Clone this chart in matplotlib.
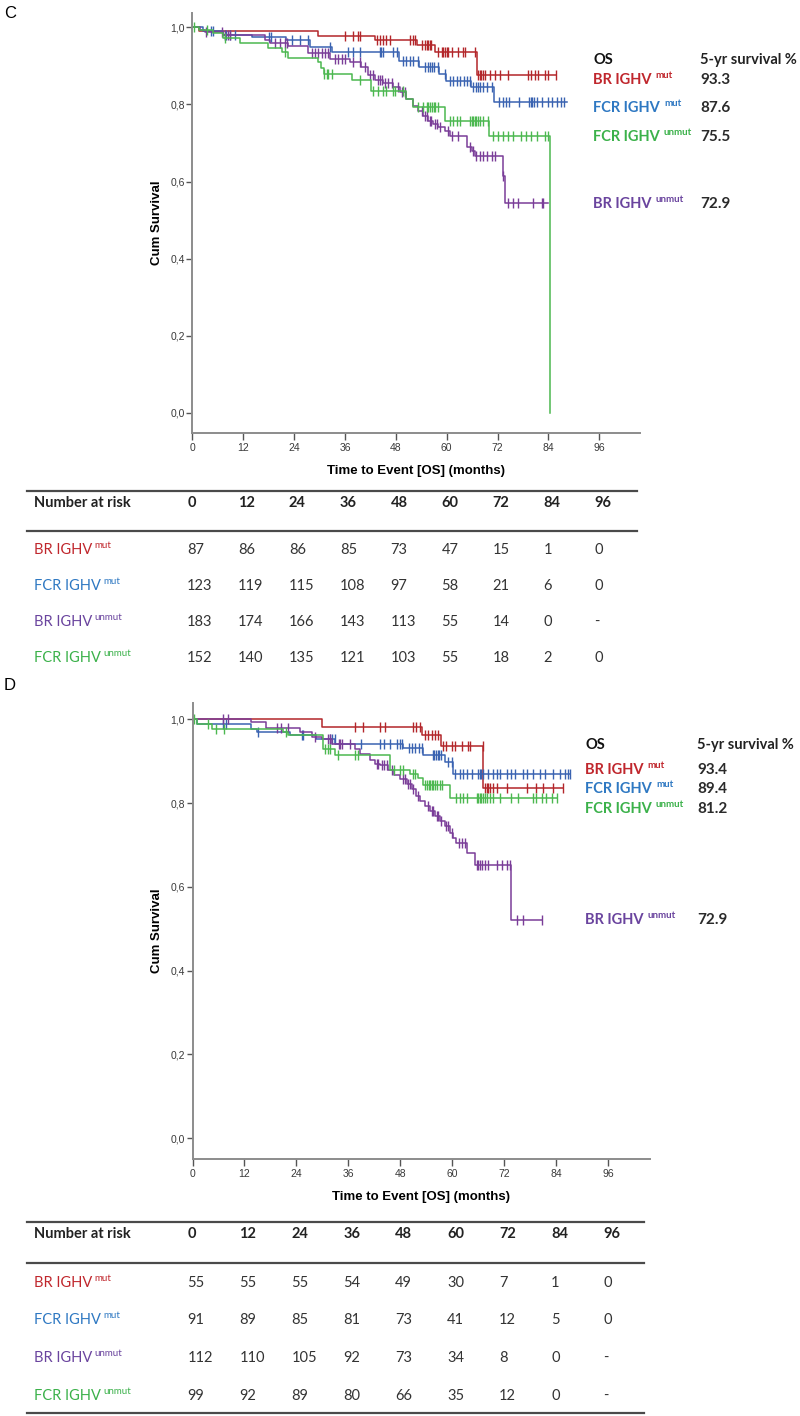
import matplotlib.pyplot as plt
import numpy as np
from matplotlib.transforms import blended_transform_factory

plt.rcParams['font.family'] = ['Liberation Sans', 'DejaVu Sans']

#%% Data
months = [0, 12, 24, 36, 48, 60, 72, 84, 96]
yvals = [0.0, 0.2, 0.4, 0.6, 0.8, 1.0]
ylabs = ['0,0', '0,2', '0,4', '0,6', '0,8', '1,0']

# group order: BR mut, FCR mut, BR unmut, FCR unmut
arm = ['BR IGHV', 'FCR IGHV', 'BR IGHV', 'FCR IGHV']
status = ['mut', 'mut', 'unmut', 'unmut']
line_col = ['#b3262a', '#3a63b1', '#7a3d98', '#4cb850']
text_col = ['#c0272d', '#2e78c2', '#6a449e', '#3bb14a']
legend_order = [0, 1, 3, 2]

c_surv5 = ['93.3', '87.6', '72.9', '75.5']
d_surv5 = ['93.4', '89.4', '72.9', '81.2']

# panel C (all patients)
c_t = [
    [0, 1.5, 29.7, 43.1, 52.9, 57.2, 67.1],
    [0, 2.6, 7.3, 14.0, 22.0, 27.7, 33.0, 48.8, 53.5, 58.2, 59.9, 65.8, 71.2],
    [0, 1.8, 3.0, 7.3, 17.1, 18.3, 22.5, 27.4, 32.5, 37.2, 39.9, 41.5, 43.1, 45.0, 47.4, 49.0,
     50.5, 52.1, 53.3, 54.5, 55.7, 56.8, 58.0, 59.6, 60.8, 64.7, 65.9, 66.7, 73.4, 73.8],
    [0, 1.5, 5.0, 7.3, 11.2, 17.9, 21.1, 22.5, 29.7, 30.3, 31.0, 37.6, 42.1, 50.5, 52.0,
     59.6, 69.9, 84.3],
]
c_s = [
    [1.0, 0.990, 0.978, 0.967, 0.954, 0.935, 0.877],
    [1.0, 0.991, 0.980, 0.975, 0.967, 0.950, 0.935, 0.913, 0.897, 0.880, 0.861, 0.845, 0.806],
    [1.0, 0.993, 0.987, 0.980, 0.967, 0.958, 0.951, 0.932, 0.919, 0.910, 0.897, 0.876, 0.862,
     0.856, 0.845, 0.832, 0.815, 0.797, 0.784, 0.771, 0.758, 0.749, 0.741, 0.732, 0.719, 0.689,
     0.680, 0.667, 0.615, 0.545],
    [1.0, 0.993, 0.984, 0.971, 0.958, 0.945, 0.937, 0.921, 0.910, 0.895, 0.880, 0.863, 0.835,
     0.815, 0.793, 0.757, 0.719, 0.0],
]
c_cens = [
    [36.0, 38.0, 39.1, 39.5, 43.5, 44.3, 45.0, 45.8, 46.6, 51.3, 52.1, 52.5, 54.1, 54.9, 55.3,
     55.7, 56.0, 56.4, 58.0, 58.8, 59.2, 59.6, 60.0, 60.4, 61.2, 62.7, 63.9, 64.3, 66.7, 67.5,
     67.8, 68.2, 68.6, 69.0, 70.2, 71.4, 72.6, 74.5, 79.2, 80.0, 80.8, 81.6, 83.2, 83.9, 85.9],
    [4.5, 5.0, 7.6, 8.0, 9.0, 10.0, 18.2, 18.6, 23.4, 25.4, 27.4, 32.5, 36.8, 38.0, 39.5, 44.3,
     44.6, 45.0, 47.4, 48.2, 49.7, 50.5, 51.3, 52.1, 53.2, 54.9, 55.7, 56.1, 56.5, 56.9, 57.9,
     59.6, 60.8, 61.6, 62.4, 63.2, 64.0, 64.7, 65.5, 66.2, 67.0, 67.4, 67.8, 68.6, 69.4, 70.7,
     72.4, 73.2, 74.0, 74.8, 77.1, 79.5, 79.8, 80.2, 80.6, 81.4, 82.6, 83.8, 84.9, 86.1, 86.9,
     87.7],
    [3.2, 6.9, 7.7, 8.5, 8.9, 19.5, 20.7, 21.9, 22.3, 28.2, 29.0, 29.7, 30.5, 31.3, 32.1, 33.7,
     34.4, 35.2, 36.0, 38.0, 39.5, 40.7, 41.9, 42.7, 43.9, 44.3, 44.7, 45.4, 46.2, 47.0, 48.6,
     49.4, 50.2, 54.1, 54.9, 55.3, 56.0, 56.4, 57.2, 57.6, 58.4, 60.4, 61.2, 62.7, 65.5, 66.3,
     67.0, 67.8, 68.6, 69.4, 70.6, 71.4, 73.4, 74.5, 75.7, 76.9, 80.4, 82.4, 82.8],
    [0.3, 3.4, 7.7, 21.9, 31.1, 31.8, 32.1, 32.9, 39.5, 42.7, 43.9, 45.0, 45.8, 47.4, 47.8,
     49.8, 53.3, 54.5, 55.3, 55.7, 56.1, 56.5, 56.9, 57.3, 58.0, 60.8, 61.6, 62.4, 63.2, 65.5,
     65.9, 66.3, 66.7, 67.0, 67.4, 67.8, 68.6, 69.7, 70.9, 72.1, 73.3, 74.5, 75.7, 77.6, 78.8,
     80.0, 81.2, 83.2, 83.9],
]
c_end = [85.9, 88.3, 83.8, 84.3]

# panel D
d_t = [
    [0, 29.8, 52.9, 57.3, 67.1],
    [0, 1.0, 13.5, 14.8, 22.5, 28.5, 33.0, 48.7, 53.3, 58.3, 60.2],
    [0, 13.4, 17.0, 24.8, 27.5, 29.8, 32.1, 37.5, 38.7, 40.9, 42.1, 43.3, 45.2, 46.4, 47.9,
     49.4, 50.6, 51.7, 52.5, 53.7, 54.8, 56.0, 57.1, 58.3, 59.4, 60.2, 60.9, 63.3, 65.2, 73.6],
    [0, 1.0, 4.5, 20.9, 22.0, 30.2, 33.0, 45.6, 50.2, 52.1, 53.3, 59.4],
]
d_s = [
    [1.0, 0.982, 0.962, 0.936, 0.835],
    [1.0, 0.989, 0.978, 0.969, 0.962, 0.952, 0.942, 0.932, 0.916, 0.898, 0.870],
    [1.0, 0.993, 0.980, 0.970, 0.958, 0.954, 0.942, 0.930, 0.918, 0.902, 0.894, 0.890, 0.878,
     0.866, 0.858, 0.846, 0.834, 0.818, 0.806, 0.794, 0.782, 0.769, 0.757, 0.745, 0.729, 0.717,
     0.705, 0.681, 0.651, 0.521],
    [1.0, 0.989, 0.978, 0.970, 0.962, 0.930, 0.914, 0.880, 0.870, 0.860, 0.842, 0.811],
]
d_cens = [
    [37.5, 39.4, 43.3, 44.4, 50.9, 51.7, 52.5, 53.7, 54.4, 55.2, 56.0, 56.7, 57.9, 58.6, 59.8,
     60.6, 62.1, 63.7, 64.1, 67.0, 67.5, 67.9, 68.3, 68.7, 69.4, 70.2, 72.5, 77.1, 79.4, 81.0,
     83.3, 85.6],
    [7.1, 7.8, 15.2, 25.2, 25.6, 31.7, 32.1, 32.9, 39.0, 43.3, 44.1, 45.6, 47.2, 47.9, 48.3,
     50.0, 50.6, 51.4, 52.2, 52.9, 55.4, 55.8, 56.2, 56.6, 57.0, 57.4, 59.0, 59.8, 60.6, 61.8,
     62.5, 63.3, 64.4, 66.0, 66.3, 66.7, 67.1, 68.2, 69.4, 70.2, 71.0, 72.5, 73.6, 74.4, 76.3,
     77.1, 78.6, 80.2, 81.3, 83.2, 84.8, 85.9, 86.7, 87.1],
    [7.1, 8.2, 19.4, 20.5, 22.1, 28.2, 31.3, 31.7, 33.7, 34.1, 34.5, 36.4, 42.5, 42.9, 43.7,
     44.1, 44.8, 46.0, 48.7, 49.0, 49.8, 50.2, 50.9, 52.1, 54.4, 55.2, 55.6, 56.4, 56.7, 57.4,
     58.6, 59.0, 59.8, 61.4, 62.1, 62.9, 65.6, 66.0, 66.4, 66.8, 67.5, 68.3, 70.2, 71.4, 72.5,
     73.3, 74.8, 76.4, 80.6],
    [0.3, 3.5, 5.4, 7.3, 21.6, 30.5, 31.2, 31.7, 33.5, 37.5, 38.3, 46.4, 47.9, 48.7, 51.0,
     51.3, 53.7, 54.1, 54.5, 54.9, 55.3, 55.6, 56.0, 56.4, 57.2, 57.6, 60.9, 61.7, 62.5, 63.3,
     65.6, 66.0, 66.3, 66.7, 67.1, 67.5, 67.9, 68.6, 69.4, 71.0, 73.6, 75.2, 78.6, 79.4, 80.6,
     81.7, 82.9, 84.1],
]
d_end = [85.6, 87.1, 80.6, 84.1]

c_risk = [
    ['87', '86', '86', '85', '73', '47', '15', '1', '0'],
    ['123', '119', '115', '108', '97', '58', '21', '6', '0'],
    ['183', '174', '166', '143', '113', '55', '14', '0', '-'],
    ['152', '140', '135', '121', '103', '55', '18', '2', '0'],
]
d_risk = [
    ['55', '55', '55', '54', '49', '30', '7', '1', '0'],
    ['91', '89', '85', '81', '73', '41', '12', '5', '0'],
    ['112', '110', '105', '92', '73', '34', '8', '0', '-'],
    ['99', '92', '89', '80', '66', '35', '12', '0', '-'],
]

#%% Plot
W, H = 800, 1416
fig = plt.figure(figsize=(W / 100, H / 100), dpi=100)
ov = fig.add_axes([0, 0, 1, 1])
ov.set_xlim(0, W)
ov.set_ylim(H, 0)
ov.axis('off')

TF = ['Lato', 'DejaVu Sans']


def km(ax, t, s, cens, end, color):
    t = np.append(t, end)
    s = np.append(s, s[-1])
    ax.step(t, s, where='post', color=color, lw=1.1)
    idx = np.searchsorted(t, cens, side='right') - 1
    ax.plot(cens, s[idx], ls='none', marker='|', ms=7, mew=1.0, color=color)


def label_sup(x, y, i, size, sup_size, weight, gap):
    t = ov.text(x, y, arm[i], fontsize=size, color=text_col[i], fontweight=weight,
                family=TF, ha='left', va='center')
    ov.annotate(status[i], xy=(1, 1), xycoords=t, xytext=(gap, 1.5),
                textcoords='offset points', ha='left', va='top',
                fontsize=sup_size, color=text_col[i], fontweight=weight, family=TF)


def panel(letter, box, ylim, ts, ss, cens, ends, surv5, risk, lay):
    l, r, top, b = box
    ax = fig.add_axes([l / W, 1 - b / H, (r - l) / W, (b - top) / H])
    ax.patch.set_visible(False)
    for i in range(4):
        km(ax, ts[i], ss[i], cens[i], ends[i], line_col[i])
    ax.set_xlim(0, 105.6)
    ax.set_ylim(*ylim)
    ax.set_xticks(months)
    ax.set_xticklabels([str(m) for m in months])
    ax.set_yticks(yvals)
    ax.set_yticklabels(ylabs)
    for sp in ['top', 'right']:
        ax.spines[sp].set_visible(False)
    for sp in ['left', 'bottom']:
        ax.spines[sp].set_color('#8c8c8c')
        ax.spines[sp].set_linewidth(1.4)
    ax.tick_params(axis='x', direction='out', length=5, width=1, color='#555555',
                   labelsize=7.5, labelcolor='#3a3a3a', pad=2.5)
    ax.tick_params(axis='y', direction='out', length=4.5, width=1, color='#555555',
                   labelsize=7.5, labelcolor='#3a3a3a', pad=1)
    ax.set_ylabel('Cum Survival', fontsize=9.5, fontweight='bold', labelpad=5)
    ax.set_xlabel('Time to Event [OS] (months)', fontsize=9.5, fontweight='bold', labelpad=8)

    ov.text(4, lay['letter_y'], letter, fontsize=12, ha='left', va='center')

    # legend with 5-yr survival
    ov.text(lay['os_x'], lay['head_y'], 'OS', fontsize=10.5, fontweight='bold', family=TF,
            ha='left', va='center', color='#111111')
    ov.text(lay['val_x'], lay['head_y'], '5-yr survival %', fontsize=10.5, fontweight='bold',
            family=TF, ha='left', va='center', color='#222222')
    for i in legend_order:
        y = lay['leg_y'][i]
        label_sup(lay['os_x'], y, i, 10.5, 7, 'bold', 3)
        ov.text(lay['val_x'], y, surv5[i], fontsize=11, fontweight='bold', family=TF,
                ha='left', va='center', color='#2a2a2a')

    # number at risk table
    tr = blended_transform_factory(ax.transData, ov.transData)
    for y in lay['rules']:
        ov.plot([27, lay['rule_end']], [y, y], color='#4a4a4a', lw=1.6)
    ov.text(34, lay['tab_head'], 'Number at risk', fontsize=10.5, fontweight='bold',
            family=TF, ha='left', va='center', color='#222222')
    for m in months:
        ov.text(m - 1.2, lay['tab_head'], str(m), transform=tr, fontsize=10.5,
                fontweight='bold', family=TF, ha='left', va='center', color='#222222')
    for i in range(4):
        y = lay['rows'][i]
        label_sup(34, y, i, 10.5, 7, 'normal', 1.5)
        for m, v in zip(months, risk[i]):
            ov.text(m - 1.2, y, v, transform=tr, fontsize=10.5, family=TF,
                    ha='left', va='center', color='#333333')
    return ax


panel('C', (192.3, 640, 13, 433), (-0.052, 1.037), c_t, c_s, c_cens, c_end, c_surv5, c_risk,
      dict(letter_y=13, os_x=593, val_x=700, head_y=60, leg_y=[80, 108, 204, 137],
           rules=[491, 531], rule_end=637, tab_head=503, rows=[550, 586, 622, 658]))
panel('D', (192.5, 650, 703, 1159), (-0.050, 1.039), d_t, d_s, d_cens, d_end, d_surv5, d_risk,
      dict(letter_y=686, os_x=585, val_x=697, head_y=745, leg_y=[770, 789, 920, 809],
           rules=[1222, 1263, 1413], rule_end=644, tab_head=1234,
           rows=[1283, 1320, 1358, 1396]))

plt.savefig('out.png', dpi=100)
